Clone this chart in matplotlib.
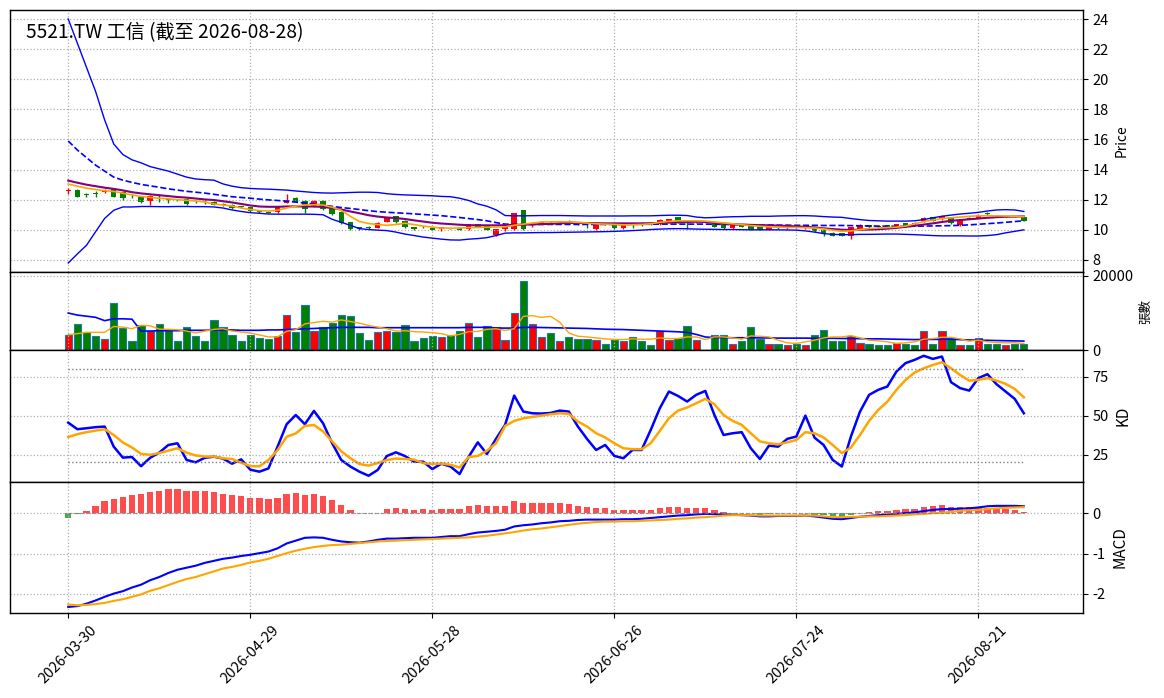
import numpy as np
import matplotlib
matplotlib.use("Agg")
import matplotlib.pyplot as plt

plt.rcParams['font.family'] = ['Noto Sans CJK TC', 'DejaVu Sans']
plt.rcParams['axes.unicode_minus'] = False

title = "5521.TW 工信 (截至 2026-08-28)"
tick_pos = [0, 20, 40, 60, 80, 100]
tick_labels = ["2026-03-30", "2026-04-29", "2026-05-28", "2026-06-26", "2026-07-24", "2026-08-21"]

# OHLC, one entry per trading day
opens = [12.55, 12.67, 12.38, 12.45, 12.50, 12.70, 12.50, 12.28, 12.20, 11.90,
         12.12, 12.02, 12.02, 12.06, 11.88, 11.88, 11.88, 11.72, 11.66, 11.55,
         11.50, 11.25, 11.20, 11.20, 11.79, 12.13, 11.92, 11.55, 11.92, 11.44,
         11.20, 10.50, 10.20, 10.22, 10.15, 10.55, 10.90, 10.60, 10.20, 10.22,
         10.15, 10.05, 10.12, 10.12, 10.05, 10.38, 10.28, 9.64, 10.05, 10.04,
         11.33, 10.32, 10.45, 10.55, 10.50, 10.60, 10.40, 10.34, 10.04, 10.40,
         10.30, 10.11, 10.38, 10.47, 10.44, 10.38, 10.58, 10.84, 10.62, 10.52,
         10.60, 10.44, 10.38, 10.11, 10.38, 10.27, 10.20, 10.00, 10.18, 10.10,
         10.28, 10.11, 10.11, 10.00, 9.82, 9.78, 9.60, 10.04, 10.31, 10.24,
         10.31, 10.22, 10.44, 10.46, 10.58, 10.86, 10.71, 10.84, 10.31, 10.78,
         10.80, 11.12, 10.98, 10.88, 10.92, 10.84]
closes = [12.62, 12.17, 12.33, 12.38, 12.58, 12.20, 12.10, 12.22, 11.82, 12.25,
          12.08, 11.95, 11.98, 11.70, 11.82, 11.84, 11.66, 11.68, 11.44, 11.50,
          11.22, 11.20, 11.15, 11.55, 11.99, 11.88, 11.40, 11.92, 11.40, 11.04,
          10.46, 10.06, 10.05, 10.10, 10.44, 10.80, 10.50, 10.20, 10.05, 10.18,
          10.00, 10.20, 10.08, 10.02, 10.38, 10.22, 10.02, 10.04, 10.18, 11.09,
          10.04, 10.40, 10.50, 10.50, 10.58, 10.47, 10.36, 10.30, 10.38, 10.36,
          10.11, 10.30, 10.35, 10.31, 10.40, 10.64, 10.70, 10.49, 10.58, 10.60,
          10.60, 10.22, 10.11, 10.38, 10.22, 10.00, 10.00, 10.20, 10.12, 10.15,
          10.22, 10.27, 9.89, 9.78, 9.62, 9.62, 10.16, 10.31, 10.16, 10.18,
          10.18, 10.36, 10.22, 10.40, 10.76, 10.62, 10.93, 10.44, 10.64, 10.74,
          10.98, 11.08, 10.90, 10.92, 10.86, 10.60]
highs = [12.80, 12.70, 12.45, 12.55, 12.70, 12.72, 12.55, 12.35, 12.25, 12.30,
         12.40, 12.10, 12.05, 12.10, 11.92, 11.95, 11.90, 11.78, 11.70, 11.60,
         11.52, 11.30, 11.25, 11.60, 12.37, 12.15, 11.95, 11.98, 11.95, 11.50,
         11.22, 10.52, 10.22, 10.25, 10.50, 10.85, 10.95, 10.65, 10.22, 10.25,
         10.18, 10.22, 10.15, 10.15, 10.42, 10.42, 10.30, 10.06, 10.25, 11.12,
         11.35, 10.55, 10.60, 10.60, 10.62, 10.65, 10.45, 10.38, 10.40, 10.45,
         10.32, 10.32, 10.45, 10.50, 10.48, 10.70, 10.75, 10.88, 10.65, 10.65,
         10.62, 10.50, 10.40, 10.40, 10.40, 10.30, 10.22, 10.22, 10.22, 10.30,
         10.35, 10.30, 10.14, 10.02, 9.84, 9.80, 10.20, 10.38, 10.34, 10.27,
         10.35, 10.42, 10.46, 10.50, 10.82, 10.88, 11.00, 10.86, 10.66, 10.82,
         11.02, 11.20, 11.00, 10.95, 10.95, 10.86]
lows = [12.40, 12.15, 12.15, 12.15, 12.45, 12.15, 12.00, 12.10, 11.78, 11.65,
        11.85, 11.80, 11.90, 11.68, 11.78, 11.70, 11.62, 11.60, 11.40, 11.45,
        11.18, 11.15, 11.10, 11.15, 11.75, 11.85, 11.10, 11.50, 11.35, 11.00,
        10.40, 9.98, 9.98, 10.05, 10.10, 10.50, 10.45, 10.15, 10.00, 10.10,
        9.98, 9.95, 10.05, 10.00, 10.00, 10.20, 9.98, 9.60, 9.95, 10.00,
        10.00, 10.20, 10.40, 10.45, 10.45, 10.45, 10.30, 10.10, 10.00, 10.30,
        10.08, 10.08, 10.15, 10.28, 10.35, 10.35, 10.55, 10.45, 10.05, 10.45,
        10.58, 10.20, 10.08, 10.08, 10.18, 9.98, 9.98, 9.98, 10.05, 10.05,
        10.15, 10.08, 9.85, 9.60, 9.60, 9.60, 9.42, 10.00, 10.14, 10.10,
        10.15, 10.18, 10.20, 10.35, 10.55, 10.60, 10.68, 10.40, 10.28, 10.70,
        10.78, 10.98, 10.88, 10.85, 10.82, 10.58]
volume = [4000, 7050, 4850, 3900, 3000, 12600, 5900, 2400, 6800, 5000,
          7050, 5700, 2550, 6150, 3900, 2550, 8100, 6150, 4150, 2300,
          4150, 3350, 3000, 3900, 9400, 4850, 12050, 5100, 6150, 7300,
          9400, 9150, 4650, 2800, 4900, 5200, 4900, 6800, 2550, 3100,
          3900, 3500, 4150, 5200, 7300, 3600, 6500, 6250, 2800, 9950,
          18700, 7050, 3600, 4650, 2550, 3600, 3000, 3000, 2800, 1750,
          3000, 2300, 3600, 2300, 1400, 5200, 2800, 3100, 6500, 2800,
          0, 4150, 4150, 1750, 2300, 6150, 3000, 1750, 1750, 1250,
          1500, 1250, 4150, 5450, 2550, 2300, 3800, 2000, 1500, 1250,
          1250, 2000, 1500, 1250, 5200, 1500, 5200, 3100, 1250, 1250,
          3100, 1750, 1750, 1250, 1750, 1500]

# price overlays
bb_upper = [24.0, 22.4, 20.8, 19.2, 17.3, 15.7, 15.0, 14.65, 14.45, 14.2,
            14.05, 13.9, 13.7, 13.5, 13.38, 13.33, 13.3, 13.05, 12.9, 12.8,
            12.75, 12.72, 12.7, 12.67, 12.64, 12.58, 12.53, 12.48, 12.45, 12.44,
            12.46, 12.48, 12.5, 12.5, 12.48, 12.4, 12.35, 12.32, 12.3, 12.28,
            12.26, 12.22, 12.2, 12.1, 11.95, 11.72, 11.57, 11.33, 10.95, 10.93,
            10.93, 10.94, 10.95, 10.95, 10.95, 10.94, 10.93, 10.92, 10.92, 10.92,
            10.92, 10.92, 10.93, 10.93, 10.93, 10.95, 10.97, 10.97, 10.95, 10.85,
            10.8, 10.82, 10.85, 10.87, 10.88, 10.9, 10.9, 10.9, 10.92, 10.93,
            10.94, 10.94, 10.92, 10.88, 10.85, 10.83, 10.75, 10.68, 10.62, 10.6,
            10.58, 10.58, 10.58, 10.6, 10.68, 10.8, 10.9, 10.98, 11.05, 11.1,
            11.16, 11.25, 11.32, 11.34, 11.32, 11.22]
bb_lower = [7.8, 8.4, 8.97, 9.87, 10.76, 11.3, 11.52, 11.52, 11.55, 11.55,
            11.54, 11.54, 11.55, 11.55, 11.54, 11.54, 11.52, 11.45, 11.32, 11.22,
            11.14, 11.1, 11.05, 11.04, 11.04, 11.04, 11.04, 11.03, 11.0, 10.7,
            10.5, 10.3, 10.08, 10.02, 9.98, 9.95, 9.85, 9.72, 9.62, 9.52,
            9.45, 9.38, 9.33, 9.32, 9.38, 9.42, 9.48, 9.62, 9.78, 9.8,
            9.8, 9.81, 9.82, 9.82, 9.83, 9.84, 9.85, 9.86, 9.87, 9.88,
            9.9, 9.92, 9.95, 9.98, 10.02, 10.05, 10.07, 10.08, 10.07, 10.05,
            10.04, 10.03, 10.02, 10.02, 10.01, 10.0, 10.0, 10.0, 10.0, 9.99,
            9.98, 9.93, 9.85, 9.75, 9.7, 9.68, 9.68, 9.7, 9.7, 9.71,
            9.72, 9.72, 9.7, 9.68, 9.65, 9.62, 9.6, 9.6, 9.6, 9.59,
            9.59, 9.62, 9.68, 9.8, 9.9, 10.0]
ma_dashed = [15.9, 15.3, 14.8, 14.3, 13.9, 13.5, 13.3, 13.15, 13.02, 12.92,
             12.83, 12.72, 12.64, 12.56, 12.5, 12.44, 12.36, 12.28, 12.2, 12.15,
             12.1, 12.04, 11.99, 11.95, 11.9, 11.84, 11.78, 11.72, 11.64, 11.56,
             11.48, 11.42, 11.35, 11.27, 11.21, 11.17, 11.13, 11.1, 11.06, 11.02,
             10.98, 10.94, 10.88, 10.82, 10.75, 10.68, 10.6, 10.48, 10.38, 10.36,
             10.36, 10.36, 10.36, 10.36, 10.36, 10.36, 10.36, 10.36, 10.36, 10.36,
             10.36, 10.36, 10.36, 10.37, 10.37, 10.38, 10.38, 10.38, 10.38, 10.38,
             10.38, 10.37, 10.36, 10.35, 10.34, 10.33, 10.32, 10.32, 10.31, 10.31,
             10.3, 10.3, 10.3, 10.29, 10.29, 10.29, 10.28, 10.27, 10.26, 10.25,
             10.24, 10.23, 10.23, 10.24, 10.25, 10.26, 10.27, 10.28, 10.3, 10.33,
             10.37, 10.41, 10.45, 10.5, 10.55, 10.6]
ma_purple = [13.27, 13.13, 13.0, 12.9, 12.8, 12.72, 12.62, 12.5, 12.42, 12.36,
             12.3, 12.24, 12.18, 12.14, 12.08, 12.02, 11.98, 11.9, 11.82, 11.72,
             11.62, 11.55, 11.53, 11.53, 11.55, 11.56, 11.55, 11.55, 11.52, 11.45,
             11.35, 11.22, 11.1, 10.97, 10.88, 10.82, 10.78, 10.72, 10.63, 10.55,
             10.47, 10.42, 10.38, 10.34, 10.31, 10.3, 10.3, 10.3, 10.31, 10.33,
             10.34, 10.36, 10.38, 10.4, 10.43, 10.46, 10.46, 10.45, 10.44, 10.43,
             10.43, 10.43, 10.43, 10.43, 10.44, 10.46, 10.48, 10.5, 10.52, 10.54,
             10.52, 10.47, 10.42, 10.38, 10.35, 10.33, 10.31, 10.3, 10.28, 10.26,
             10.23, 10.2, 10.16, 10.1, 10.05, 10.01, 10.0, 10.01, 10.02, 10.04,
             10.08, 10.13, 10.2, 10.27, 10.35, 10.43, 10.52, 10.6, 10.65, 10.7,
             10.75, 10.8, 10.84, 10.87, 10.88, 10.89]
ma_orange = [13.04, 12.9, 12.77, 12.68, 12.6, 12.55, 12.43, 12.32, 12.22, 12.15,
             12.1, 12.06, 12.0, 11.96, 11.92, 11.85, 11.72, 11.65, 11.58, 11.45,
             11.35, 11.28, 11.25, 11.3, 11.45, 11.58, 11.65, 11.67, 11.65, 11.5,
             11.3, 10.9, 10.55, 10.42, 10.35, 10.3, 10.35, 10.44, 10.35, 10.25,
             10.18, 10.12, 10.11, 10.12, 10.15, 10.16, 10.17, 10.19, 10.2, 10.3,
             10.38, 10.45, 10.52, 10.53, 10.54, 10.53, 10.5, 10.45, 10.4, 10.38,
             10.36, 10.33, 10.34, 10.36, 10.4, 10.5, 10.56, 10.6, 10.6, 10.6,
             10.58, 10.52, 10.46, 10.4, 10.34, 10.28, 10.24, 10.2, 10.17, 10.16,
             10.16, 10.14, 10.12, 10.06, 9.98, 9.9, 9.93, 10.02, 10.09, 10.12,
             10.15, 10.18, 10.25, 10.4, 10.55, 10.65, 10.75, 10.8, 10.85, 10.9,
             10.93, 10.94, 10.93, 10.92, 10.9, 10.87]

# volume moving averages
vol_ma_long = [9950, 9400, 9100, 8800, 7900, 8400, 8400, 8300, 5100, 5100,
               5200, 5200, 5200, 5300, 5300, 5300, 5400, 5400, 5400, 5300,
               5300, 5300, 5400, 5400, 5500, 5600, 5700, 5800, 5900, 6000,
               6100, 6100, 6100, 6100, 6000, 6000, 6000, 6000, 6000, 6000,
               6000, 6000, 6000, 6000, 6100, 6100, 6100, 5900, 5900, 5900,
               6100, 6100, 6050, 6000, 5950, 5900, 5850, 5800, 5700, 5600,
               5550, 5500, 5400, 5300, 5200, 5100, 5000, 4900, 4750, 4200,
               3500, 3350, 3350, 3300, 3300, 3300, 3250, 3250, 3200, 3200,
               3200, 3200, 3150, 3150, 3150, 3100, 3100, 3050, 3000, 3000,
               2950, 2900, 2850, 2800, 2850, 2850, 2900, 2900, 2800, 2700,
               2650, 2600, 2550, 2500, 2450, 2400]
vol_ma_short = [4140, 4400, 4750, 4750, 4750, 6340, 6160, 5720, 6600, 6510,
                5630, 5540, 5460, 5100, 4580, 5100, 5540, 5720, 5100, 4840,
                4580, 4050, 3520, 3520, 5020, 5460, 7040, 7390, 7740, 7480,
                8100, 7660, 7220, 6600, 6160, 5720, 5100, 5190, 4930, 4840,
                4660, 4400, 3780, 4220, 4930, 5020, 5540, 5720, 5280, 5720,
                9060, 9240, 8800, 9060, 7480, 4580, 3700, 3520, 3260, 2990,
                2820, 2820, 2990, 2900, 2900, 3260, 3080, 3080, 3520, 3520,
                2820, 3520, 3520, 3260, 2900, 3780, 3700, 3520, 2640, 1940,
                1760, 2200, 2640, 3260, 3520, 3520, 3870, 3260, 2640, 2460,
                2200, 1760, 1940, 2200, 2900, 3080, 3430, 3430, 2990, 2380,
                2640, 2200, 2020, 1940, 1940, 1760]

# KD
k_vals = [45.5, 41.3, 41.9, 42.6, 43.0, 30.1, 23.1, 23.5, 17.6, 23.0,
          26.3, 31.2, 32.3, 21.6, 20.1, 23.0, 23.7, 22.5, 19.2, 22.0,
          15.4, 14.1, 16.2, 30.1, 44.5, 50.4, 44.5, 53.0, 45.1, 32.3,
          21.6, 17.4, 14.1, 11.5, 15.2, 24.1, 26.5, 24.1, 20.5, 20.5,
          15.8, 19.2, 17.4, 12.6, 23.7, 32.9, 25.4, 35.1, 44.1, 62.8,
          52.6, 51.5, 51.3, 51.7, 53.2, 52.6, 43.0, 35.1, 28.0, 31.2,
          24.2, 22.7, 28.0, 28.0, 40.8, 54.7, 65.4, 62.6, 59.0, 63.3,
          65.8, 50.4, 37.6, 38.7, 39.4, 29.1, 22.2, 30.8, 30.1, 35.1,
          36.6, 50.0, 35.9, 31.2, 21.6, 17.4, 36.6, 52.6, 63.3, 66.5,
          68.6, 78.2, 83.6, 85.7, 88.3, 86.3, 87.8, 71.4, 67.6, 66.0,
          74.0, 76.5, 70.1, 65.4, 60.7, 51.5]
d_vals = [36.3, 38.1, 39.4, 40.4, 41.3, 37.6, 32.8, 29.6, 25.5, 24.9,
          26.0, 27.6, 29.1, 26.3, 24.5, 23.8, 23.8, 22.7, 22.2, 19.8,
          17.7, 17.5, 21.6, 27.9, 36.5, 38.6, 43.4, 44.0, 39.9, 33.5,
          27.1, 22.7, 19.0, 18.0, 19.6, 21.6, 22.5, 22.2, 21.8, 19.6,
          19.0, 19.3, 18.5, 16.8, 23.5, 24.2, 27.5, 32.3, 43.4, 46.6,
          48.3, 49.2, 50.0, 50.9, 51.5, 51.1, 46.2, 43.0, 38.7, 36.0,
          32.3, 29.1, 28.5, 28.5, 32.3, 40.2, 48.3, 53.2, 55.2, 57.9,
          60.7, 57.3, 50.4, 46.6, 44.1, 38.7, 33.5, 32.3, 31.6, 32.9,
          34.4, 39.4, 38.7, 36.0, 31.2, 26.0, 29.6, 37.6, 46.6, 53.6,
          58.9, 66.5, 72.8, 77.6, 80.3, 82.4, 84.2, 80.3, 76.0, 72.4,
          72.8, 74.0, 72.4, 70.3, 67.1, 61.7]

# MACD
dif = [-2.32, -2.30, -2.24, -2.16, -2.07, -1.99, -1.93, -1.84, -1.77, -1.66,
       -1.58, -1.48, -1.40, -1.35, -1.30, -1.23, -1.18, -1.13, -1.10, -1.06,
       -1.03, -0.99, -0.95, -0.87, -0.75, -0.68, -0.61, -0.60, -0.61, -0.66,
       -0.70, -0.72, -0.73, -0.70, -0.66, -0.63, -0.63, -0.62, -0.61, -0.61,
       -0.61, -0.59, -0.57, -0.57, -0.52, -0.48, -0.46, -0.44, -0.41, -0.33,
       -0.30, -0.28, -0.25, -0.23, -0.20, -0.19, -0.17, -0.16, -0.16, -0.16,
       -0.16, -0.15, -0.15, -0.14, -0.12, -0.10, -0.08, -0.06, -0.05, -0.03,
       -0.02, -0.02, -0.03, -0.04, -0.05, -0.06, -0.08, -0.08, -0.07, -0.07,
       -0.07, -0.06, -0.08, -0.11, -0.14, -0.15, -0.12, -0.09, -0.07, -0.05,
       -0.04, -0.02, 0.00, 0.02, 0.05, 0.08, 0.10, 0.10, 0.11, 0.12,
       0.14, 0.17, 0.18, 0.18, 0.18, 0.17]
dea = [-2.26, -2.28, -2.27, -2.25, -2.22, -2.17, -2.13, -2.07, -2.01, -1.92,
       -1.86, -1.78, -1.70, -1.63, -1.58, -1.51, -1.44, -1.37, -1.33, -1.28,
       -1.22, -1.18, -1.13, -1.06, -0.99, -0.93, -0.88, -0.84, -0.81, -0.79,
       -0.78, -0.76, -0.74, -0.72, -0.70, -0.69, -0.68, -0.67, -0.66, -0.65,
       -0.64, -0.63, -0.62, -0.61, -0.60, -0.58, -0.56, -0.53, -0.50, -0.47,
       -0.43, -0.40, -0.38, -0.35, -0.32, -0.29, -0.26, -0.24, -0.22, -0.21,
       -0.21, -0.20, -0.20, -0.19, -0.18, -0.17, -0.16, -0.14, -0.13, -0.11,
       -0.10, -0.08, -0.06, -0.05, -0.05, -0.05, -0.06, -0.06, -0.06, -0.06,
       -0.06, -0.06, -0.06, -0.08, -0.10, -0.10, -0.09, -0.09, -0.08, -0.08,
       -0.07, -0.06, -0.05, -0.03, -0.02, 0.00, 0.01, 0.03, 0.06, 0.07,
       0.08, 0.10, 0.12, 0.13, 0.14, 0.15]
osc = [-0.11, -0.03, 0.06, 0.18, 0.30, 0.35, 0.40, 0.45, 0.475, 0.52,
       0.55, 0.59, 0.59, 0.55, 0.55, 0.55, 0.52, 0.475, 0.45, 0.43,
       0.38, 0.38, 0.35, 0.38, 0.475, 0.50, 0.45, 0.475, 0.43, 0.33,
       0.20, 0.08, 0.01, -0.005, 0.0, 0.107, 0.13, 0.107, 0.08, 0.107,
       0.08, 0.107, 0.107, 0.107, 0.18, 0.20, 0.18, 0.18, 0.18, 0.30,
       0.25, 0.25, 0.25, 0.25, 0.25, 0.23, 0.18, 0.156, 0.13, 0.13,
       0.08, 0.08, 0.08, 0.08, 0.08, 0.13, 0.156, 0.156, 0.13, 0.13,
       0.13, 0.08, 0.03, 0.01, 0.003, -0.005, -0.04, -0.016, -0.008, -0.008,
       -0.008, -0.003, -0.04, -0.057, -0.074, -0.09, -0.057, 0.0, 0.03, 0.057,
       0.057, 0.08, 0.107, 0.107, 0.156, 0.18, 0.205, 0.156, 0.156, 0.156,
       0.13, 0.13, 0.13, 0.107, 0.08, 0.033]

n = len(closes)
x = np.arange(n)
up = np.array(closes) >= np.array(opens)
bar_colors = np.where(up, 'red', 'green')

W, H = 1164, 698
fig = plt.figure(figsize=(W / 100, H / 100), dpi=100)
left, right = 10 / W, 1083 / W


def panel(top_px, bottom_px, share=None):
    return fig.add_axes([left, 1 - bottom_px / H, right - left, (bottom_px - top_px) / H], sharex=share)


ax1 = panel(10, 272)
ax2 = panel(272, 350, ax1)
ax3 = panel(350, 482, ax1)
ax4 = panel(482, 613, ax1)

grid_kw = dict(color='#b0b0b0', linestyle=':', linewidth=0.9)

# price panel
body_w = 0.6
for i in range(n):
    c = bar_colors[i]
    ax1.vlines(x[i], lows[i], highs[i], color=c, linewidth=1)
    lo = min(opens[i], closes[i])
    h = max(abs(closes[i] - opens[i]), 0.02)
    ax1.bar(x[i], h, bottom=lo, width=body_w, color=c, linewidth=0)
ax1.plot(x, bb_upper, color='blue', linewidth=1)
ax1.plot(x, bb_lower, color='blue', linewidth=1)
ax1.plot(x, ma_dashed, color='blue', linewidth=1.2, linestyle='--')
ax1.plot(x, ma_purple, color='purple', linewidth=1.5)
ax1.plot(x, ma_orange, color='orange', linewidth=1.2)
ax1.set_ylim(7.2, 24.6)
ax1.set_yticks(range(8, 25, 2))
ax1.set_ylabel('Price', fontsize=10)
ax1.text(0.015, 0.955, title, transform=ax1.transAxes, fontsize=13.8, va='top', ha='left')

# volume panel
ax2.bar(x, volume, width=0.8, color=bar_colors, edgecolor='#1f77b4', linewidth=0.8)
ax2.plot(x, vol_ma_long, color='blue', linewidth=1.2)
ax2.plot(x, vol_ma_short, color='orange', linewidth=1)
ax2.set_ylim(0, 21000)
ax2.set_yticks([0, 20000])
ax2.set_ylabel('張數', fontsize=9)

# KD panel
ax3.plot(x, k_vals, color='blue', linewidth=1.8)
ax3.plot(x, d_vals, color='orange', linewidth=1.8)
ax3.plot(x, [80] * n, color='gray', linestyle=':', linewidth=1)
ax3.plot(x, [20] * n, color='gray', linestyle=':', linewidth=1)
ax3.set_ylim(7.5, 92)
ax3.set_yticks([25, 50, 75])
ax3.set_ylabel('KD', fontsize=11)

# MACD panel
osc_colors = ['red' if v >= 0 else 'green' for v in osc]
ax4.bar(x, osc, width=0.7, color=osc_colors, alpha=0.7)
ax4.plot(x, dif, color='blue', linewidth=1.5)
ax4.plot(x, dea, color='orange', linewidth=1.5)
ax4.plot(x, [0] * n, color='gray', linestyle='--', linewidth=0.8, alpha=0.8)
ax4.set_ylim(-2.47, 0.77)
ax4.set_yticks([-2, -1, 0])
ax4.set_ylabel('MACD', fontsize=11)

for ax in (ax1, ax2, ax3, ax4):
    ax.yaxis.tick_right()
    ax.yaxis.set_label_position('right')
    ax.grid(True, **grid_kw)
    ax.tick_params(labelsize=10.5)
    for s in ax.spines.values():
        s.set_linewidth(1)
    if ax is not ax4:
        ax.tick_params(labelbottom=False)

ax4.set_xlim(-6.4, 111.5)
ax4.set_xticks(tick_pos)
ax4.set_xticklabels(tick_labels, rotation=45)

fig.savefig('out.png', dpi=100)
